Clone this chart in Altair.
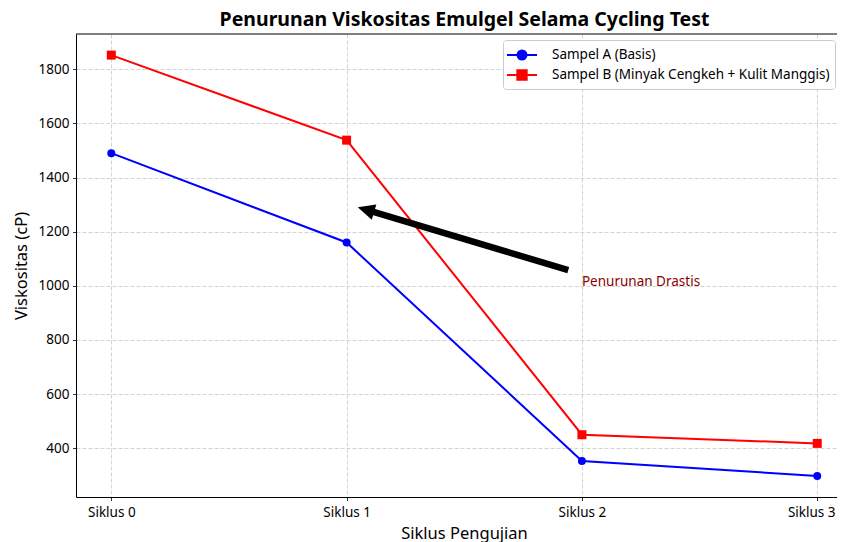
import altair as alt
import pandas as pd

# ---- data ----
cycles = [0, 1, 2, 3]
cycle_labels = ["Siklus 0", "Siklus 1", "Siklus 2", "Siklus 3"]
series_names = ["Sampel A (Basis)", "Sampel B (Minyak Cengkeh + Kulit Manggis)"]
series_a = [1490, 1160, 353, 298]
series_b = [1852, 1538, 450, 418]
series_colors = ["#0000ff", "#ff0000"]
y_ticks = [400, 600, 800, 1000, 1200, 1400, 1600, 1800]
annotation_text = ["Penurunan Drastis"]
annotation_x = [2]
annotation_y = [1000]
arrow_tail_x = [1.942]
arrow_tail_y = [1058]
arrow_head_x = [1.082]
arrow_head_y = [1281]

X_DOMAIN = [-0.15, 3.084]
Y_DOMAIN = [220, 1930]
FONT = "Noto Sans"

rows = []
for name, vals in zip(series_names, [series_a, series_b]):
    for c, v in zip(cycles, vals):
        rows.append({"Siklus": c, "Viskositas": v, "Sampel": name})
df = pd.DataFrame(rows)

arrow_df = pd.DataFrame({"Siklus": arrow_tail_x, "Viskositas": arrow_tail_y,
                         "Siklus2": arrow_head_x, "Viskositas2": arrow_head_y})
head_df = pd.DataFrame({"Siklus": arrow_head_x, "Viskositas": arrow_head_y})
text_df = pd.DataFrame({"Siklus": annotation_x, "Viskositas": annotation_y, "t": annotation_text})

label_expr = "[" + ",".join("'%s'" % l for l in cycle_labels) + "][datum.value]"

x_scale = alt.Scale(domain=X_DOMAIN, nice=False, zero=False)
y_scale = alt.Scale(domain=Y_DOMAIN, nice=False, zero=False)
x_axis = alt.Axis(values=cycles, labelExpr=label_expr, title="Siklus Pengujian",
                  labelPadding=5, titlePadding=6, titleX=388,
                  labelOffset={"condition": {"test": "datum.value == 3", "value": -6}, "value": 0})
y_axis = alt.Axis(values=y_ticks, format="d", title="Viskositas (cP)",
                  labelPadding=3.5, titlePadding=9)


def X():
    return alt.X("Siklus:Q", scale=x_scale, axis=x_axis)


def Y():
    return alt.Y("Viskositas:Q", scale=y_scale, axis=y_axis)


color_scale = alt.Scale(domain=series_names, range=series_colors)
circle_line = "M-1.667,0H1.667M-0.5,0A0.5,0.5,0,1,0,0.5,0A0.5,0.5,0,1,0,-0.5,0Z"
square_line = "M-1.667,0H1.667M-0.52,-0.52H0.52V0.52H-0.52Z"
shape_scale = alt.Scale(domain=series_names, range=[circle_line, square_line])

leg = alt.Legend(title=None)

legend_layer = alt.Chart(df).mark_point(filled=True, opacity=0, strokeWidth=2).encode(
    x=X(), y=Y(),
    color=alt.Color("Sampel:N", scale=color_scale, legend=leg),
    stroke=alt.Stroke("Sampel:N", scale=color_scale, legend=leg),
    shape=alt.Shape("Sampel:N", scale=shape_scale, legend=leg),
)

lines = alt.Chart(df).mark_line(strokeWidth=2).encode(
    x=X(), y=Y(),
    color=alt.Color("Sampel:N", scale=color_scale, legend=None),
)

pts_a = alt.Chart(df).transform_filter(alt.datum.Sampel == series_names[0]).mark_point(
    shape="circle", filled=True, size=64, opacity=1).encode(
    x=X(), y=Y(), color=alt.Color("Sampel:N", scale=color_scale, legend=None))

pts_b = alt.Chart(df).transform_filter(alt.datum.Sampel == series_names[1]).mark_point(
    shape="square", filled=True, size=81, opacity=1).encode(
    x=X(), y=Y(), color=alt.Color("Sampel:N", scale=color_scale, legend=None))

shaft = alt.Chart(arrow_df).mark_rule(color="black", strokeWidth=6.5, strokeCap="butt").encode(
    x=X(), y=Y(), x2="Siklus2:Q", y2="Viskositas2:Q")

head = alt.Chart(head_df).mark_point(shape="M0,-1L0.94,1L-0.94,1Z", filled=True, color="black",
                                     size=289, angle=286.6, opacity=1, strokeWidth=0).encode(
    x=X(), y=Y())

note = alt.Chart(text_df).mark_text(align="left", baseline="alphabetic", font=FONT,
                                    fontSize=13.5, color="#8b0000").encode(
    x=X(), y=Y(), text="t:N")

# top spine of the axes frame (right spine lies outside the window in the reference)
top_spine = alt.Chart(text_df).mark_rule(color="black", strokeWidth=1).encode(
    x=alt.datum(X_DOMAIN[0]), x2=alt.datum(X_DOMAIN[1]), y=alt.datum(Y_DOMAIN[1]))

chart = alt.layer(legend_layer, lines, pts_a, pts_b, shaft, head, note, top_spine).properties(
    width=761, height=463,
    title=alt.TitleParams("Penurunan Viskositas Emulgel Selama Cycling Test", font=FONT,
                          fontSize=19.5, fontWeight="bold", color="black", anchor="middle",
                          offset=3, dx=8),
    autosize=alt.AutoSizeParams(type="none"),
    padding={"left": 68, "top": 26, "right": 0, "bottom": 45},
).configure(background="white").configure_view(
    stroke=None
).configure_axis(
    domain=True, domainColor="black", domainWidth=1,
    tickColor="black", tickSize=3.5, tickWidth=0.8,
    labelFont=FONT, labelFontSize=13.5, labelColor="black",
    titleFont=FONT, titleFontSize=16.5, titleFontWeight="normal", titleColor="black",
    gridColor="#c8c8c8", gridDash=[4, 2], gridWidth=0.8,
).configure_legend(
    orient="none", legendX=427, legendY=6,
    labelFont=FONT, labelFontSize=13.5, labelColor="black", labelLimit=0,
    symbolSize=324, symbolStrokeWidth=2, symbolOffset=4, labelOffset=20,
    symbolFillColor="black",
    rowPadding=1, padding=5, fillColor="white", strokeColor="#cccccc", cornerRadius=3,
)

chart.save("out.html", embed_options={"renderer": "svg", "actions": False})
